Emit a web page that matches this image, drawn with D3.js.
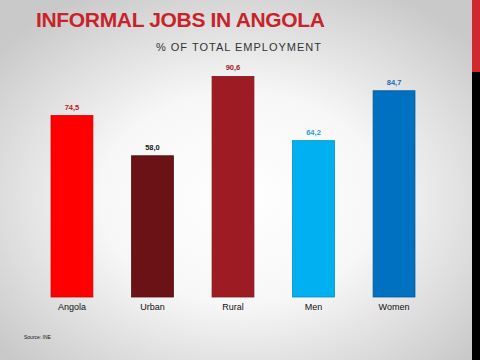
<!DOCTYPE html>
<html><head><meta charset="utf-8">
<script src="https://cdn.jsdelivr.net/npm/d3@7"></script>
<style>html,body{margin:0;padding:0;overflow:hidden;}svg{display:block;}</style>
</head><body>
<svg id="c" width="480" height="360"></svg>
<script>
const categories = ["Angola", "Urban", "Rural", "Men", "Women"];
const values = [74.5, 58.0, 90.6, 64.2, 84.7];
const labels = ["74,5", "58,0", "90,6", "64,2", "84,7"];
const barColors = ["#FF0000", "#6A1216", "#9D1C24", "#00B0F0", "#0070C0"];
const labelColors = ["#C0141C", "#1a1a1a", "#9D1C24", "#1FA0E0", "#1E6AB8"];

const svg = d3.select("#c");
const defs = svg.append("defs");
const g = defs.append("radialGradient").attr("id","bg").attr("cx","50%").attr("cy","55%").attr("r","65%");
g.append("stop").attr("offset","0%").attr("stop-color","#ffffff");
g.append("stop").attr("offset","45%").attr("stop-color","#f7f7f7");
g.append("stop").attr("offset","100%").attr("stop-color","#c9c9c9");
svg.append("rect").attr("width",480).attr("height",360).attr("fill","url(#bg)");

// right strip
svg.append("rect").attr("x",472).attr("y",0).attr("width",8).attr("height",72).attr("fill","#D0282E");
svg.append("rect").attr("x",472).attr("y",72).attr("width",8).attr("height",288).attr("fill","#000");

svg.append("text").attr("x",36).attr("y",27).attr("font-family","Arial, Liberation Sans, sans-serif")
  .attr("font-weight","bold").attr("font-size",21).attr("fill","#C8232B")
  .attr("textLength",289).attr("lengthAdjust","spacing")
  .text("INFORMAL JOBS IN ANGOLA");
svg.append("text").attr("x",239).attr("y",51).attr("text-anchor","middle")
  .attr("font-family","Arial, Liberation Sans, sans-serif").attr("font-size",11).attr("letter-spacing",1)
  .attr("fill","#333").text("% OF TOTAL EMPLOYMENT");

const x = d3.scaleBand().domain(categories).range([31.7, 434.3]).paddingInner(0.48).paddingOuter(0.24);
const y = d3.scaleLinear().domain([0, 100]).range([297, 53.5]);

const data = categories.map((c,i)=>({c, v: values[i], l: labels[i], col: barColors[i], lc: labelColors[i]}));

svg.selectAll("rect.bar").data(data).join("rect").attr("class","bar")
  .attr("x", d=>x(d.c)).attr("width", x.bandwidth())
  .attr("y", d=>y(d.v)).attr("height", d=>y(0)-y(d.v))
  .attr("fill", d=>d.col).attr("stroke", d=>d3.color(d.col).darker(0.6)).attr("stroke-width",0.8);

svg.selectAll("text.val").data(data).join("text").attr("class","val")
  .attr("x", d=>x(d.c)+x.bandwidth()/2).attr("y", d=>y(d.v)-6)
  .attr("text-anchor","middle").attr("font-family","Arial, Liberation Sans, sans-serif")
  .attr("font-weight","bold").attr("font-size",7.5).attr("fill", d=>d.lc).text(d=>d.l);

const ax = svg.append("g").attr("transform","translate(0,297)")
  .call(d3.axisBottom(x).tickSize(0).tickPadding(7));
ax.select(".domain").remove();
ax.selectAll("text").attr("font-family","Arial, Liberation Sans, sans-serif").attr("font-size",9).attr("fill","#111");

svg.append("text").attr("x",24).attr("y",339).attr("font-family","Arial, Liberation Sans, sans-serif")
  .attr("font-size",5).attr("fill","#111").text("Source: INE");
</script>
</body></html>
